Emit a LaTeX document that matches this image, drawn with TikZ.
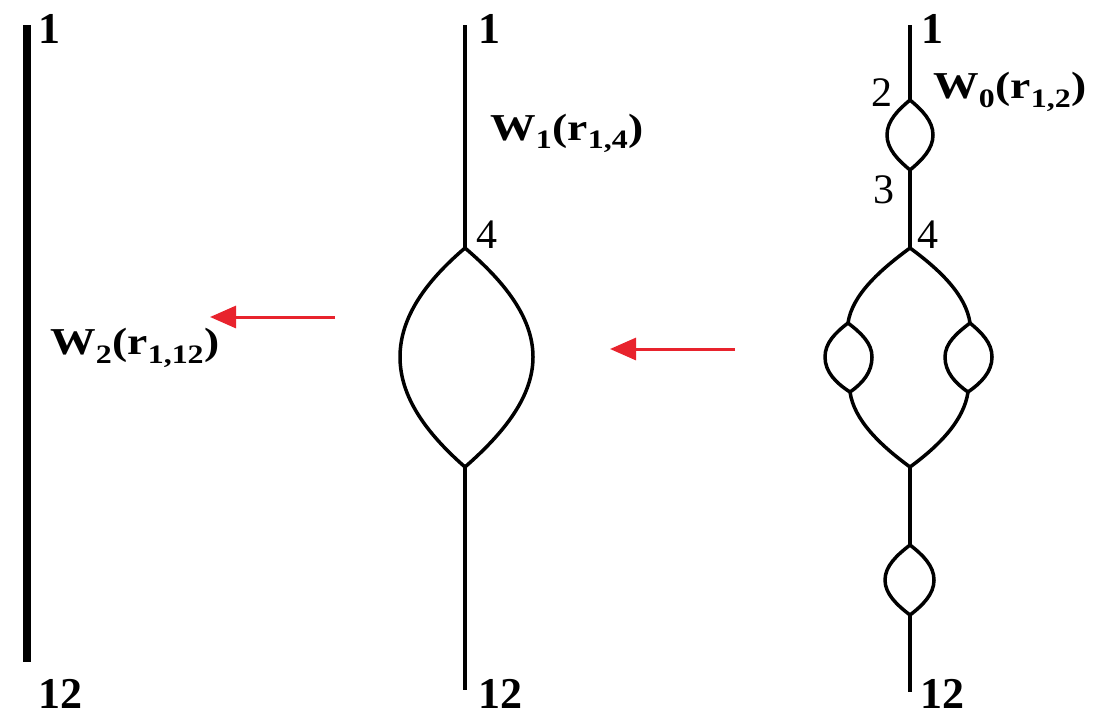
\documentclass[tikz,border=0pt]{standalone}
\usepackage{fontspec}
\setmainfont{Liberation Serif}
\usetikzlibrary{arrows.meta}
\definecolor{arrred}{RGB}{232,35,45}
\begin{document}
\begin{tikzpicture}[x=1pt,y=-1pt,
  thickline/.style={line width=8pt},
  wire/.style={line width=4pt},
  lens/.style={line width=3.5pt, line join=round},
  num/.style={font=\fontsize{44}{44}\selectfont\bfseries, inner sep=0pt, anchor=base west},
  numr/.style={font=\fontsize{42}{42}\selectfont, inner sep=0pt, anchor=base west},
  wlab/.style={font=\fontsize{38}{40}\selectfont\bfseries, inner sep=0pt, anchor=base west, xscale=1.2},
  redarrow/.style={line width=3pt, draw=arrred, -{Triangle[length=26pt,width=22pt]}}]
\useasboundingbox (0,0) rectangle (1099,718);

% ---------- left diagram
\coordinate (L1) at (27,25);
\coordinate (L12) at (27,662);
\draw[thickline] (L1) -- (L12);
\node[num] (l1) at (38,43) {1};
\node[num] (l12) at (38,708) {12};
\node[wlab] (w2) at (50,354) {W\textsubscript{2}(r\textsubscript{1,12})};
\coordinate (A1s) at (335,317);
\coordinate (A1e) at (210,317);
\draw[redarrow] (A1s) -- (A1e);

% ---------- middle diagram
\coordinate (M1) at (465,25);
\coordinate (M4) at (465,248);
\coordinate (ML) at (400,357);
\coordinate (MR) at (533,357);
\coordinate (M5) at (465,467);
\coordinate (M12) at (465,690);
\draw[wire] (M1) -- (M4);
\draw[wire] (M5) -- (M12);
\draw[lens] (M4) .. controls (425,282) and (400,318) .. (ML) .. controls (400,396) and (425,432) .. (M5);
\draw[lens] (M4) .. controls (505,282) and (533,318) .. (MR) .. controls (533,396) and (505,432) .. (M5);
\node[num] (m1) at (478,43) {1};
\node[numr] (m4) at (476,248) {4};
\node[num] (m12) at (478,708) {12};
\node[wlab] (w1) at (490,140) {W\textsubscript{1}(r\textsubscript{1,4})};
\coordinate (A2s) at (735,349);
\coordinate (A2e) at (610,349);
\draw[redarrow] (A2s) -- (A2e);

% ---------- right diagram
\coordinate (R1) at (910,25);
\coordinate (R2) at (910,100);
\coordinate (R3) at (910,170);
\coordinate (R4) at (910,248);
\coordinate (R5) at (910,467);
\coordinate (R6) at (910,545);
\coordinate (R7) at (910,615);
\coordinate (R12) at (910,692);
\coordinate (BL1) at (848,323);
\coordinate (BL2) at (850,392);
\coordinate (BR1) at (970,323);
\coordinate (BR2) at (968,392);
\coordinate (S1L) at (887,135);
\coordinate (S1R) at (933,135);
\coordinate (S2L) at (825,357);
\coordinate (S2R) at (872,357);
\coordinate (S3L) at (945,357);
\coordinate (S3R) at (992,357);
\coordinate (S4L) at (885,580);
\coordinate (S4R) at (934,580);
\draw[wire] (R1) -- (R2);
\draw[wire] (R3) -- (R4);
\draw[wire] (R5) -- (R6);
\draw[wire] (R7) -- (R12);
% small lens 2-3
\draw[lens] (R2) .. controls (898,110) and (887,121) .. (S1L) .. controls (887,149) and (898,160) .. (R3);
\draw[lens] (R2) .. controls (922,110) and (933,121) .. (S1R) .. controls (933,149) and (922,160) .. (R3);
% big lens
\draw[lens] (R4) .. controls (880,270) and (852,295) .. (BL1);
\draw[lens] (BL2) .. controls (854,420) and (880,445) .. (R5);
\draw[lens] (R4) .. controls (940,270) and (966,295) .. (BR1);
\draw[lens] (BR2) .. controls (964,420) and (940,445) .. (R5);
% side small lenses
\draw[lens] (BL1) .. controls (835,333) and (825,343) .. (S2L) .. controls (825,372) and (836,383) .. (BL2);
\draw[lens] (BL1) .. controls (861,333) and (872,343) .. (S2R) .. controls (872,372) and (863,383) .. (BL2);
\draw[lens] (BR1) .. controls (957,333) and (945,343) .. (S3L) .. controls (945,372) and (955,383) .. (BR2);
\draw[lens] (BR1) .. controls (982,333) and (992,343) .. (S3R) .. controls (992,372) and (981,383) .. (BR2);
% lower small lens
\draw[lens] (R6) .. controls (897,555) and (885,566) .. (S4L) .. controls (885,594) and (897,605) .. (R7);
\draw[lens] (R6) .. controls (923,555) and (934,566) .. (S4R) .. controls (934,594) and (923,605) .. (R7);
% labels
\node[num] (r1) at (921,43) {1};
\node[numr] (r2) at (871,106) {2};
\node[numr] (r3) at (873,203) {3};
\node[numr] (r4) at (917,248) {4};
\node[num] (r12) at (920,708) {12};
\node[wlab] (w0) at (933,98) {W\textsubscript{0}(r\textsubscript{1,2})};
\end{tikzpicture}
\end{document}
